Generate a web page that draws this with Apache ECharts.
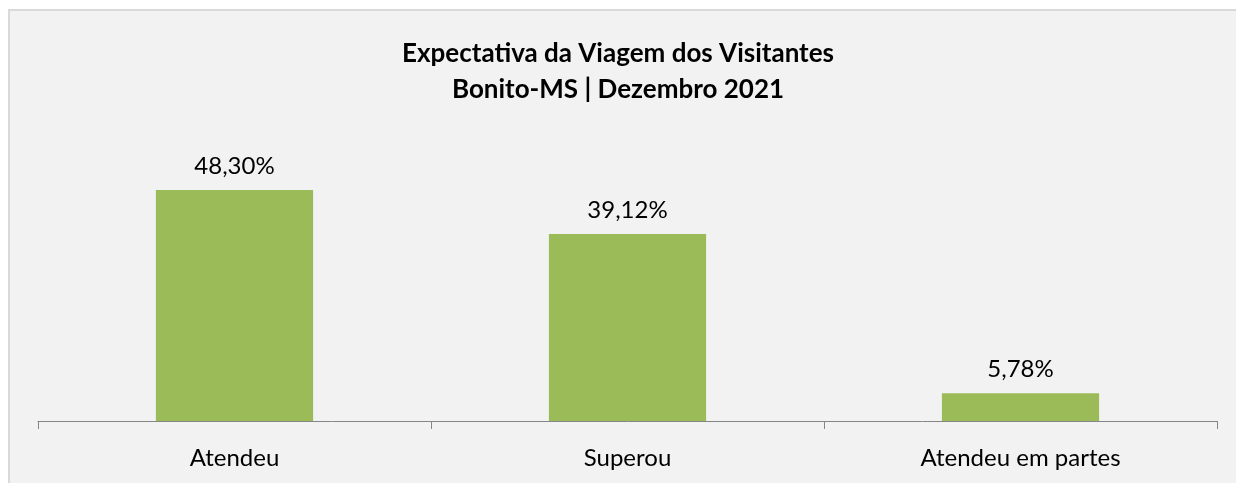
<!DOCTYPE html>
<html>
<head>
<meta charset="utf-8">
<title>Expectativa da Viagem dos Visitantes</title>
<script src="https://cdn.jsdelivr.net/npm/echarts@6/dist/echarts.min.js"></script>
<style>
  html, body { margin: 0; padding: 0; background: #fff; }
  #box { position: absolute; left: 8px; top: 9px; width: 1240px; height: 490px;
         background: #f2f2f2; border: 2px solid #d9d9d9; }
  #chart { position: absolute; left: 0; top: 0; width: 1236px; height: 483px; }
</style>
</head>
<body>
<div id="box"></div>
<div id="chart"></div>
<script>
// dados
var categorias = ['Atendeu', 'Superou', 'Atendeu em partes'];
var valores = [48.30, 39.12, 5.78];

var fonte = 'Lato, Open Sans, sans-serif';
var chart = echarts.init(document.getElementById('chart'));
chart.setOption({
  backgroundColor: 'transparent',
  title: {
    text: 'Expectativa da Viagem dos Visitantes\nBonito-MS | Dezembro 2021',
    left: 'center',
    top: 31,
    textStyle: { fontFamily: fonte, fontSize: 26, fontWeight: 'bold', color: '#000', lineHeight: 36 }
  },
  grid: { left: 38, right: 19, top: 134, bottom: 62 },
  xAxis: {
    type: 'category',
    data: categorias,
    axisLine: { lineStyle: { color: '#868686', width: 1 } },
    axisTick: { show: true, length: 8, lineStyle: { color: '#868686' } },
    axisLabel: { fontFamily: fonte, fontSize: 24, color: '#000', margin: 25 }
  },
  yAxis: {
    type: 'value', min: 0, max: 60,
    show: false
  },
  series: [{
    type: 'bar',
    data: valores,
    barWidth: '40%',
    itemStyle: { color: '#9bbb59' },
    label: {
      show: true, position: 'top', distance: 12,
      fontFamily: fonte, fontSize: 24, color: '#000',
      formatter: function (p) { return p.value.toFixed(2).replace('.', ',') + '%'; }
    }
  }]
});
</script>
</body>
</html>
